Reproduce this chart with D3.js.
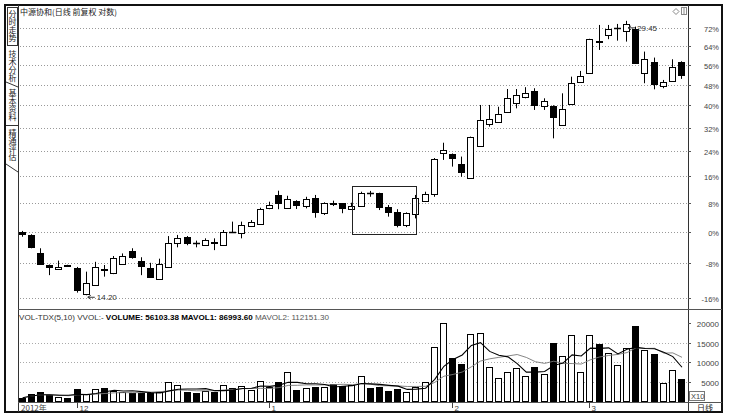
<!DOCTYPE html>
<html><head><meta charset="utf-8">
<script src="https://cdn.jsdelivr.net/npm/d3@7"></script>
<style>
body{margin:0;background:#fff;}
svg{display:block;}
text{font-family:"Liberation Sans",Arial,sans-serif;}
.cjk{font-family:"Noto Sans CJK SC","Noto Sans",sans-serif;}
.vert{writing-mode:vertical-rl;text-orientation:upright;}
</style></head><body>
<svg id="c" width="729" height="417"></svg>
<script>
// ---------- data ----------
const openP=[16.81,16.65,15.87,15.39,15.21,15.39,15.27,14.25,14.59,15.21,15.08,15.43,15.96,15.57,15.28,14.84,15.32,16.33,16.59,16.32,16.23,16.34,16.23,16.80,16.77,17.09,17.15,17.89,18.54,17.89,18.26,18.00,18.38,17.66,18.14,18.13,17.85,18.00,18.66,18.62,17.94,17.72,17.12,17.62,18.26,18.59,20.74,20.67,20.13,19.41,21.12,22.37,22.53,23.13,23.66,24.04,24.44,23.49,23.51,22.33,23.59,25.06,25.66,27.90,28.37,28.87,28.70,28.83,25.62,26.38,24.77,25.08,26.40];
const highP=[16.85,16.70,16.09,15.41,15.57,15.40,15.31,15.12,15.52,15.39,15.76,15.87,16.09,15.71,15.48,15.65,16.62,16.67,16.62,16.42,16.52,16.52,16.89,17.27,17.27,17.34,17.92,18.21,18.75,18.50,18.28,18.45,18.54,18.18,18.26,18.14,18.16,18.70,18.74,18.65,18.05,17.85,17.70,18.54,18.70,20.45,21.30,20.70,20.53,21.65,23.55,23.55,23.44,24.57,24.57,24.69,24.62,23.97,23.53,24.29,25.39,25.78,28.08,29.13,29.13,29.21,29.45,29.00,27.14,26.71,25.17,26.59,26.45];
const lowP=[16.59,16.09,15.40,14.98,15.20,15.33,14.30,14.20,14.57,14.92,15.02,15.41,15.65,14.98,14.87,14.82,15.30,16.13,16.22,16.13,16.19,16.01,16.21,16.78,16.52,17.07,17.13,17.85,17.85,17.87,17.86,17.89,17.45,17.58,18.00,17.66,17.84,17.98,18.45,17.81,17.50,17.01,17.02,17.42,18.21,18.45,20.35,19.99,19.46,19.38,21.08,22.23,22.50,23.10,23.34,23.97,23.24,23.24,21.55,22.30,23.56,25.03,25.62,27.26,28.05,27.94,27.87,26.30,24.95,24.55,24.62,25.05,25.24];
const closeP=[16.70,16.13,15.43,15.31,15.31,15.34,14.40,14.66,15.32,15.19,15.69,15.76,15.71,15.35,14.89,15.41,16.33,16.52,16.30,16.30,16.44,16.33,16.81,16.79,17.12,17.25,17.85,18.05,18.13,18.34,18.05,18.36,17.73,18.16,18.12,17.89,18.00,18.62,18.65,17.97,17.73,17.12,17.68,18.40,18.57,20.40,20.89,20.47,19.69,21.61,22.63,22.67,23.01,23.97,24.17,24.29,23.55,23.82,22.83,23.32,24.99,25.44,28.05,27.85,28.80,28.90,29.21,26.35,26.59,24.90,25.04,26.03,25.51];
const volume=[8500,17300,22400,15500,11100,7000,30900,17300,30900,32700,25800,22400,19800,19800,19800,22400,48200,41200,24000,19800,25800,22400,41200,32700,39400,28300,51500,36900,48200,75500,28300,34300,36900,36900,43800,38700,41200,64400,32700,36900,26500,30900,22400,36900,48200,139900,200200,110000,94600,171900,174500,88400,60000,74000,84300,65200,88400,68800,150200,116000,170100,75500,170100,146100,122900,92800,135800,193300,131400,120300,47200,79900,56103];
const basePrice=16.80;
const pctTicks=[-16,-8,0,8,16,24,32,40,48,56,64,72];
const volTicks=[50000,100000,150000,200000];
const volGrid=[50000,100000,150000];
const monthIdx=[6,27,47,62];
const monthTxt=["12","1","2","3"];
const yearTxt="2012年";
const titleTxt="中源协和(日线 前复权 对数)";
const volTxtParts=["VOL-TDX(5,10) VVOL:-  ","VOLUME: 56103.38 MAVOL1: 86993.60"," MAVOL2: 112151.30"];
const tabs=["分时走势","技术分析","基本资料","精通评估"];
const boxIdx=[36,43];
const boxPrice=[16.74,19.00];
const lowMarkIdx=7, highMarkIdx=66;

// ---------- layout ----------
const svg=d3.select("#c");
const L=18,R=688,T=5,MB=309,VB=402,DB=412,FR=722;
const x=d3.scaleLinear().domain([0,openP.length-1]).range([22.7,682]);
const y=d3.scaleLog().domain([basePrice*0.84,basePrice*1.72]).range([297.6,28]);
const vy=d3.scaleLinear().domain([0,200000]).range([401,323.4]);
const px=v=>Math.round(v)+0.5;

// frame
svg.append("rect").attr("x",5).attr("y",5).attr("width",FR-5).attr("height",DB-5)
  .attr("fill","#fff").attr("stroke","#111").attr("stroke-width",2);
[[L,T,L,DB],[R,T,R,DB]].forEach(d=>svg.append("line").attr("x1",px(d[0])).attr("y1",d[1]).attr("x2",px(d[2])).attr("y2",d[3]).attr("stroke","#333"));
[[MB],[VB]].forEach(d=>svg.append("line").attr("x1",L).attr("x2",FR).attr("y1",px(d[0])).attr("y2",px(d[0])).attr("stroke","#555"));

// tabs (vertical text)
const tabY=[10,50,89,129];
tabs.forEach((t,k)=>{
  svg.append("text").attr("class","cjk vert").attr("font-size",8).attr("fill","#222")
    .attr("x",12.5).attr("y",tabY[k]).text(t);
});
svg.append("rect").attr("x",7.5).attr("y",7.5).attr("width",10).attr("height",38).attr("fill","none").attr("stroke","#333");
svg.append("line").attr("x1",6).attr("y1",82).attr("x2",L).attr("y2",87).attr("stroke","#333");
svg.append("line").attr("x1",6).attr("y1",125.5).attr("x2",L).attr("y2",125.5).attr("stroke","#333");
svg.append("line").attr("x1",6).attr("y1",164).attr("x2",L).attr("y2",172).attr("stroke","#333");

// grid main
const g=svg.append("g");
pctTicks.forEach(p=>{
  const yy=px(y(basePrice*(1+p/100)));
  g.append("line").attr("x1",L+2).attr("x2",R).attr("y1",yy).attr("y2",yy)
   .attr("stroke","#999").attr("stroke-dasharray","1,2");
  g.append("line").attr("x1",R).attr("x2",R+3).attr("y1",yy).attr("y2",yy).attr("stroke","#555");
  g.append("text").attr("x",719).attr("y",yy+3).attr("text-anchor","end").attr("font-size",7.5)
   .attr("fill","#444").text(p+"%");
});
// volume grid and axis
volGrid.forEach(v=>{
  const yy=px(vy(v));
  g.append("line").attr("x1",L+2).attr("x2",R).attr("y1",yy).attr("y2",yy)
   .attr("stroke","#aaa").attr("stroke-dasharray","1,2");
});
volTicks.forEach(v=>{
  const yy=px(vy(v));
  g.append("line").attr("x1",R).attr("x2",R+3).attr("y1",yy).attr("y2",yy).attr("stroke","#555");
  g.append("text").attr("x",719).attr("y",yy+3).attr("text-anchor","end").attr("font-size",8)
   .attr("fill","#444").text(String(v/10));
});
svg.append("rect").attr("x",689.5).attr("y",391.5).attr("width",15).attr("height",9).attr("fill","none").attr("stroke","#777");
svg.append("text").attr("x",691).attr("y",399).attr("font-size",7.5).attr("fill","#444").text("X10");
svg.append("text").attr("class","cjk").attr("x",697).attr("y",410.5).attr("font-size",8).attr("fill","#222").text("日线");

// title & icons
svg.append("text").attr("class","cjk").attr("x",20).attr("y",15).attr("font-size",8).attr("fill","#222").text(titleTxt);
svg.append("path").attr("d","M676,8.5 L679,11.5 L676,14.5 L673,11.5 Z").attr("fill","none").attr("stroke","#888");
svg.append("rect").attr("x",681.5).attr("y",7.5).attr("width",5).attr("height",7).attr("fill","none").attr("stroke","#888");
svg.append("line").attr("x1",684).attr("x2",684).attr("y1",7.5).attr("y2",14.5).attr("stroke","#888");

// candles
const n=openP.length;
const cg=svg.append("g");
for(let i=0;i<n;i++){
  const cx=Math.round(x(i))-0.5, o=openP[i], c=closeP[i];
  const up=c>=o;
  cg.append("line").attr("x1",cx).attr("x2",cx).attr("y1",y(highP[i])).attr("y2",y(lowP[i])).attr("stroke","#000");
  const t=Math.round(y(Math.max(o,c)))+0.5, b=Math.round(y(Math.min(o,c)))+0.5;
  if(b-t<1){
    cg.append("line").attr("x1",cx-3.5).attr("x2",cx+3.5).attr("y1",t).attr("y2",t).attr("stroke","#000").attr("stroke-width",1.5);
  } else {
    cg.append("rect").attr("x",cx-3).attr("y",t).attr("width",6).attr("height",b-t)
      .attr("fill",up?"#fff":"#000").attr("stroke","#000");
  }
}
// highlight box
svg.append("rect").attr("x",px(x(boxIdx[0]))).attr("y",px(y(boxPrice[1])))
  .attr("width",Math.round(x(boxIdx[1])-x(boxIdx[0])))
  .attr("height",Math.round(y(boxPrice[0])-y(boxPrice[1])))
  .attr("fill","none").attr("stroke","#222");

// annotations
function mark(i,price,dy,label){
  const xx=x(i)+1, yy=y(price)+dy;
  svg.append("line").attr("x1",xx).attr("x2",xx+7).attr("y1",yy).attr("y2",yy).attr("stroke","#333");
  svg.append("path").attr("d",`M${xx},${yy} l3,-2 M${xx},${yy} l3,2`).attr("stroke","#333").attr("fill","none");
  svg.append("text").attr("x",xx+9).attr("y",yy+3).attr("font-size",8).attr("fill","#333").text(label);
}
mark(lowMarkIdx,lowP[lowMarkIdx],2,lowP[lowMarkIdx].toFixed(2));
mark(highMarkIdx,highP[highMarkIdx],7,highP[highMarkIdx].toFixed(2));

// volume bars
const vg=svg.append("g");
for(let i=0;i<n;i++){
  const cx=Math.round(x(i))-0.5;
  const top=Math.round(vy(volume[i]))+0.5;
  vg.append("rect").attr("x",cx-3).attr("y",top).attr("width",6).attr("height",Math.round(vy(0))+0.5-top)
    .attr("fill",closeP[i]<openP[i]?"#000":"#fff").attr("stroke","#000");
}
function ma(k){return volume.map((v,i)=>d3.mean(volume.slice(Math.max(0,i-k+1),i+1)));}
const line=d3.line().x((d,i)=>x(i)).y(d=>vy(d)).curve(d3.curveLinear);
svg.append("path").attr("d",line(ma(10))).attr("fill","none").attr("stroke","#777").attr("stroke-width",0.9);
svg.append("path").attr("d",line(ma(5))).attr("fill","none").attr("stroke","#000").attr("stroke-width",1.1);

const vt=svg.append("text").attr("x",19).attr("y",320).attr("font-size",8)
  .attr("textLength",310).attr("lengthAdjust","spacingAndGlyphs");
vt.append("tspan").attr("fill","#333").text(volTxtParts[0]);
vt.append("tspan").attr("fill","#000").attr("font-weight","bold").text(volTxtParts[1]);
vt.append("tspan").attr("fill","#555").text(volTxtParts[2]);

// date axis
svg.append("text").attr("class","cjk").attr("x",21).attr("y",410.5).attr("font-size",8).attr("fill","#444").text(yearTxt);
monthIdx.forEach((m,k)=>{
  const xx=Math.round(x(m))-0.5;
  svg.append("line").attr("x1",xx).attr("x2",xx).attr("y1",VB).attr("y2",VB+6).attr("stroke","#444");
  svg.append("text").attr("x",xx+2).attr("y",410.5).attr("font-size",8).attr("fill","#444").text(monthTxt[k]);
});
</script>
</body></html>
